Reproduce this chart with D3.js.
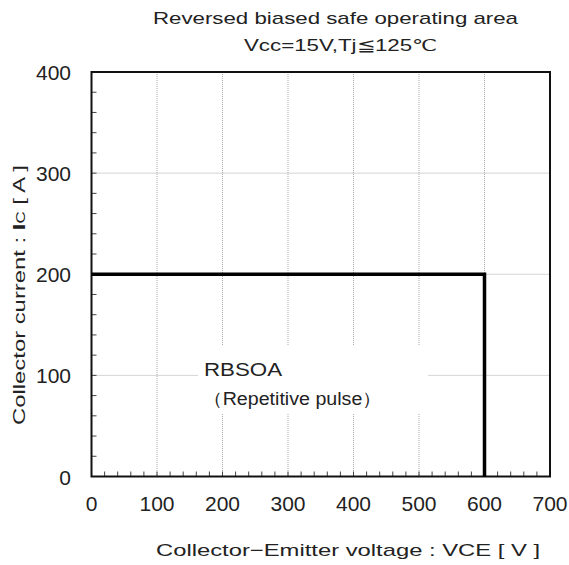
<!DOCTYPE html>
<html><head><meta charset="utf-8">
<script src="https://cdn.jsdelivr.net/npm/d3@7"></script>
<style>body{margin:0;background:#fff}text{font-family:"Liberation Sans",Arial,sans-serif;fill:#222}</style>
</head><body><svg id="c" width="569" height="565"></svg>
<script>
const titleLines = ["Reversed biased safe operating area", "Vcc=15V,Tj≦125℃"];
const xTicks = [0,100,200,300,400,500,600,700];
const yTicks = [0,100,200,300,400];
const soaV = [0, 600, 600];
const soaI = [200, 200, 0];
const labelLines = ["RBSOA", "（Repetitive pulse）"];
const xTitle = "Collector−Emitter voltage : VCE [ V ]";

const svg = d3.select("#c");
const L=91.5,R=550,T=72,B=476.5;
const x = d3.scaleLinear().domain([0,700]).range([L,R]);
const y = d3.scaleLinear().domain([0,400]).range([B,T]);

// grid
const g = svg.append("g").attr("stroke","#aaa").attr("stroke-width",1).attr("stroke-dasharray","1,1");
xTicks.slice(1,-1).forEach(v=>g.append("line").attr("x1",x(v)).attr("x2",x(v)).attr("y1",T).attr("y2",B));
yTicks.slice(1,-1).forEach(v=>g.append("line").attr("y1",y(v)).attr("y2",y(v)).attr("x1",L).attr("x2",R));

// minor ticks
const mt = svg.append("g").attr("stroke","#444").attr("stroke-width",1);
d3.range(20,700,20).forEach(v=>mt.append("line").attr("x1",x(v)).attr("x2",x(v)).attr("y1",B).attr("y2",B-5));
d3.range(20,400,20).forEach(v=>mt.append("line").attr("y1",y(v)).attr("y2",y(v)).attr("x1",L).attr("x2",L+5));

// label box (white background)
svg.append("rect").attr("x",198).attr("y",346).attr("width",230).attr("height",68).attr("fill","#fff");
svg.append("text").attr("x",204).attr("y",376).attr("font-size",19)
  .attr("textLength",78).attr("lengthAdjust","spacingAndGlyphs").text(labelLines[0]);
svg.append("text").attr("x",203).attr("y",405).attr("font-size",18)
  .attr("textLength",179).attr("lengthAdjust","spacingAndGlyphs").text(labelLines[1]);

// frame
svg.append("rect").attr("x",L).attr("y",T).attr("width",R-L).attr("height",B-T)
  .attr("fill","none").attr("stroke","#111").attr("stroke-width",2);

// SOA line
const pts = soaV.map((v,i)=>[v,soaI[i]]);
svg.append("path").attr("d",d3.line().x(d=>x(d[0])).y(d=>y(d[1]))(pts))
  .attr("fill","none").attr("stroke","#000").attr("stroke-width",3.5).attr("stroke-linejoin","miter");

// tick labels
xTicks.forEach(v=>svg.append("text").attr("x",x(v)).attr("y",511).attr("text-anchor","middle").attr("font-size",21).text(v));
yTicks.forEach(v=>svg.append("text").attr("x",71).attr("y",y(v)+8).attr("text-anchor","end").attr("font-size",21).text(v));

// titles
svg.append("text").attr("x",153).attr("y",24).attr("font-size",17)
  .attr("textLength",365).attr("lengthAdjust","spacingAndGlyphs").text(titleLines[0]);
svg.append("text").attr("x",244).attr("y",51).attr("font-size",17)
  .attr("textLength",193).attr("lengthAdjust","spacingAndGlyphs").text(titleLines[1]);
svg.append("text").attr("x",156).attr("y",556).attr("font-size",17)
  .attr("textLength",384).attr("lengthAdjust","spacingAndGlyphs").text(xTitle);
const yt = svg.append("text").attr("transform","translate(25,425) rotate(-90)").attr("font-size",17)
  .attr("textLength",260).attr("lengthAdjust","spacingAndGlyphs");
yt.append("tspan").text("Collector current : ");
yt.append("tspan").attr("font-weight","bold").text("I");
yt.append("tspan").attr("font-size",12).text("C");
yt.append("tspan").text(" [ A ]");
</script></body></html>
